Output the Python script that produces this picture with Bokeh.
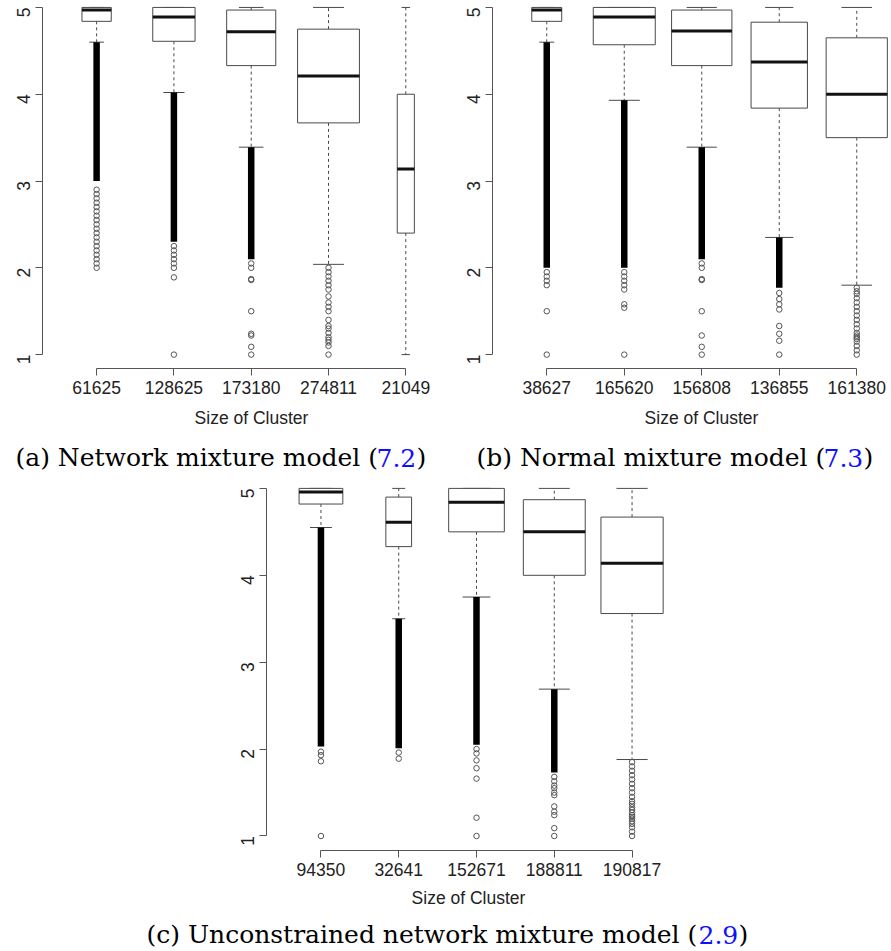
import math
from bokeh.plotting import figure
from bokeh.models import FixedTicker, Label
from bokeh.layouts import column, row
from bokeh.embed import file_html
from bokeh.resources import INLINE

# ---------------- data ----------------
# Panel (a) Network mixture model
a_sizes = ["61625", "128625", "173180", "274811", "21049"]
a_q1 = [4.84, 4.61, 4.33, 3.67, 2.40]
a_med = [4.97, 4.89, 4.72, 4.21, 3.14]
a_q3 = [5.00, 5.00, 4.97, 4.75, 4.00]
a_lo = [4.60, 4.02, 3.39, 2.04, 1.00]
a_hi = [5.00, 5.00, 5.00, 5.00, 5.00]
a_dense_top = [4.60, 4.02, 3.39, None, None]
a_dense_bot = [3.00, 2.30, 2.10, None, None]
a_out = [
    [2.9, 2.85, 2.8, 2.75, 2.7, 2.65, 2.6, 2.55, 2.5, 2.45, 2.4, 2.35, 2.3, 2.25, 2.2, 2.15, 2.1, 2.05, 2.0],
    [2.25, 2.2, 2.15, 2.1, 2.05, 2.0, 1.89, 1.0],
    [2.05, 2.0, 1.87, 1.86, 1.5, 1.24, 1.22, 1.09, 1.0],
    [2.0, 1.95, 1.9, 1.85, 1.8, 1.75, 1.67, 1.6, 1.55, 1.5, 1.4, 1.33, 1.3, 1.25, 1.2, 1.17, 1.14, 1.1, 1.0],
    [],
]

# Panel (b) Normal mixture model
b_sizes = ["38627", "165620", "156808", "136855", "161380"]
b_q1 = [4.84, 4.57, 4.33, 3.84, 3.50]
b_med = [4.97, 4.89, 4.73, 4.37, 4.00]
b_q3 = [5.00, 5.00, 4.97, 4.83, 4.65]
b_lo = [4.60, 3.93, 3.39, 2.35, 1.80]
b_hi = [5.00, 5.00, 5.00, 5.00, 5.00]
b_dense_top = [4.60, 3.93, 3.39, 2.35, None]
b_dense_bot = [2.00, 2.00, 2.10, 1.77, None]
b_out = [
    [1.95, 1.9, 1.85, 1.8, 1.5, 1.0],
    [1.95, 1.9, 1.85, 1.8, 1.75, 1.58, 1.54, 1.0],
    [2.05, 2.0, 1.87, 1.86, 1.5, 1.22, 1.09, 1.0],
    [1.71, 1.64, 1.58, 1.52, 1.33, 1.24, 1.16, 1.0],
    [1.77, 1.73, 1.7, 1.65, 1.6, 1.55, 1.5, 1.45, 1.4, 1.35, 1.3, 1.25, 1.22, 1.2, 1.18, 1.15, 1.1, 1.05, 1.0],
]

# Panel (c) Unconstrained network mixture model
c_sizes = ["94350", "32641", "152671", "188811", "190817"]
c_q1 = [4.82, 4.33, 4.50, 4.00, 3.56]
c_med = [4.96, 4.61, 4.84, 4.50, 4.14]
c_q3 = [5.00, 4.90, 5.00, 4.87, 4.67]
c_lo = [4.55, 3.50, 3.75, 2.69, 1.88]
c_hi = [5.00, 5.00, 5.00, 5.00, 5.00]
c_dense_top = [4.55, 3.50, 3.75, 2.69, None]
c_dense_bot = [2.03, 2.01, 2.05, 1.73, None]
c_out = [
    [1.97, 1.93, 1.86, 1.0],
    [1.96, 1.89],
    [2.0, 1.95, 1.87, 1.78, 1.66, 1.21, 1.0],
    [1.68, 1.63, 1.58, 1.55, 1.5, 1.47, 1.34, 1.28, 1.24, 1.09, 1.0],
    [1.85, 1.8, 1.75, 1.7, 1.65, 1.6, 1.55, 1.5, 1.45, 1.4, 1.37, 1.33, 1.3, 1.27, 1.24,
     1.22, 1.2, 1.17, 1.14, 1.1, 1.05, 1.0],
]

y_ticks = [1, 2, 3, 4, 5]
axis_title = "Size of Cluster"
captions = {
    "a": ("(a) Network mixture model (", "7.2", ")"),
    "b": ("(b) Normal mixture model (", "7.3", ")"),
    "c": ("(c) Unconstrained network mixture model (", "2.9", ")"),
}

SANS = "Liberation Sans"
SERIF = "DejaVu Serif"
LINE = "#4a4a4a"
TXT = "#222222"


def make_panel(sizes, q1, med, q3, lo, hi, dtop, dbot, outs,
               width, height, bl, br, bb, x_start, x_end, y_start, y_end):
    p = figure(width=width, height=height, output_backend="svg", toolbar_location=None,
               x_range=(x_start, x_end), y_range=(y_start, y_end),
               min_border_left=bl, min_border_right=br, min_border_top=0, min_border_bottom=bb)
    p.outline_line_color = None
    p.grid.visible = False
    p.background_fill_color = "white"
    p.border_fill_color = "white"

    n = len(sizes)
    xs_c = list(range(1, n + 1))
    nmax = max(math.sqrt(float(s)) for s in sizes)
    wid = [0.8 * math.sqrt(float(s)) / nmax for s in sizes]

    # whiskers (dashed)
    up_x, up_y0, up_y1 = [], [], []
    for i in range(n):
        if hi[i] > q3[i]:
            up_x.append(xs_c[i]); up_y0.append(q3[i]); up_y1.append(hi[i])
    p.segment(x0=up_x, y0=up_y0, x1=up_x, y1=up_y1, line_color=LINE, line_width=1, line_dash="3 3")
    lo_x, lo_y0, lo_y1 = [], [], []
    for i in range(n):
        if lo[i] < q1[i]:
            lo_x.append(xs_c[i]); lo_y0.append(q1[i]); lo_y1.append(lo[i])
    p.segment(x0=lo_x, y0=lo_y0, x1=lo_x, y1=lo_y1, line_color=LINE, line_width=1, line_dash="3 3")

    # staples
    st_l = [xs_c[i] - wid[i] * 0.25 for i in range(n)]
    st_r = [xs_c[i] + wid[i] * 0.25 for i in range(n)]
    p.segment(x0=st_l, y0=hi, x1=st_r, y1=hi, line_color=LINE, line_width=1)
    p.segment(x0=st_l, y0=lo, x1=st_r, y1=lo, line_color=LINE, line_width=1)

    # boxes
    left = [xs_c[i] - wid[i] / 2 for i in range(n)]
    right = [xs_c[i] + wid[i] / 2 for i in range(n)]
    p.quad(left=left, right=right, bottom=q1, top=q3, fill_color="white",
           line_color=LINE, line_width=1)
    p.segment(x0=left, y0=med, x1=right, y1=med, line_color="#111111", line_width=3)

    # dense outlier bands
    dx, d0, d1 = [], [], []
    for i in range(n):
        if dtop[i] is not None:
            dx.append(xs_c[i]); d0.append(dtop[i]); d1.append(dbot[i])
    p.segment(x0=dx, y0=d0, x1=dx, y1=d1, line_color="black", line_width=6.5)

    # outliers
    ox, oy = [], []
    for i in range(n):
        for v in outs[i]:
            ox.append(xs_c[i]); oy.append(v)
    p.scatter(x=ox, y=oy, marker="circle", size=5.5, fill_color=None,
              line_color="#555555", line_width=1)

    # axes
    for ax in p.xaxis:
        ax.ticker = FixedTicker(ticks=xs_c)
        ax.major_label_overrides = {xs_c[i]: sizes[i] for i in range(n)}
        ax.bounds = (1, n)
        ax.major_label_standoff = 5
    for ax in p.yaxis:
        ax.ticker = FixedTicker(ticks=y_ticks)
        ax.bounds = (1, 5)
        ax.major_label_orientation = math.pi / 2
        ax.major_label_standoff = 12
    for ax in (p.xaxis[0], p.yaxis[0]):
        ax.axis_line_color = "#555555"
        ax.major_tick_line_color = "#555555"
        ax.major_tick_out = 7
        ax.major_tick_in = 0
        ax.minor_tick_line_color = None
        ax.major_label_text_font = SANS
        ax.major_label_text_font_size = "17.5px"
        ax.major_label_text_color = TXT
    return p


def make_caption(width, height, title_x, title_y, parts, part_x, base_y):
    # a text-only strip; coordinates are pixels within the strip (y measured from top)
    p = figure(width=width, height=height, output_backend="svg", toolbar_location=None,
               x_range=(0, width), y_range=(height, 0), x_axis_type=None, y_axis_type=None,
               min_border=0)
    p.outline_line_color = None
    p.grid.visible = False
    p.add_layout(Label(x=title_x, y=title_y, text=axis_title, text_align="center",
                       text_baseline="middle", text_font=SANS, text_font_size="17.5px",
                       text_color=TXT))
    cols = ["black", "#1010ff", "black"]
    for part, px, col in zip(parts, part_x, cols):
        p.add_layout(Label(x=px, y=base_y, text=part, text_align="left",
                           text_baseline="alphabetic", text_font=SERIF,
                           text_font_size="25px", text_color=col))
    return p


# top row: frame 0..368 px, y=5 at 7px, y=1 at 354px
pa = make_panel(a_sizes, a_q1, a_med, a_q3, a_lo, a_hi, a_dense_top, a_dense_bot, a_out,
                width=445, height=400, bl=42, br=0, bb=32,
                x_start=0.3, x_end=0.3 + 403 / 77.3, y_start=0.84, y_end=5.08)
pb = make_panel(b_sizes, b_q1, b_med, b_q3, b_lo, b_hi, b_dense_top, b_dense_bot, b_out,
                width=445, height=400, bl=47, br=0, bb=32,
                x_start=0.3, x_end=0.3 + 398 / 77.5, y_start=0.84, y_end=5.08)

capa = make_caption(445, 74, 251, 17, captions["a"], [15, 376, 416], 57)
capb = make_caption(445, 74, 256, 17, captions["b"], [31, 378, 418], 57)

# bottom panel: frame 474..850 px
pc = make_panel(c_sizes, c_q1, c_med, c_q3, c_lo, c_hi, c_dense_top, c_dense_bot, c_out,
                width=890, height=408, bl=266, br=204, bb=32,
                x_start=0.3, x_end=5.7, y_start=0.833, y_end=5.16)
capc = make_caption(890, 68, 468, 15, captions["c"], [146, 698, 738], 52)

layout = column(row(pa, pb), row(capa, capb), row(pc), row(capc))
open("out.html", "w").write(file_html(layout, INLINE))
